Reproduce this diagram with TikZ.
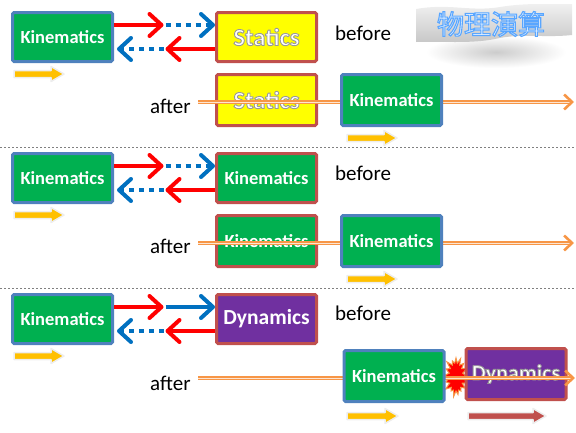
\documentclass[tikz,border=0pt]{standalone}
\usepackage{fontspec}
\setmainfont{Carlito}
\newfontfamily\cjkfont{Noto Sans CJK JP}
\usetikzlibrary{positioning,calc,arrows.meta,shapes.symbols}
\definecolor{PhysGreen}{HTML}{00B050}
\definecolor{PhysBlue}{HTML}{4F81BD}
\definecolor{PhysRed}{HTML}{C0504D}
\definecolor{PhysYellow}{HTML}{FFFF00}
\definecolor{PhysPurple}{HTML}{7030A0}
\definecolor{ArrRed}{HTML}{FF0000}
\definecolor{ArrBlue}{HTML}{0070C0}
\definecolor{ArrGold}{HTML}{FFC000}
\definecolor{LineOrange}{HTML}{F79646}
\definecolor{LogoText}{HTML}{E4F1FF}

% white text with a grey rim
\newcommand{\rimtext}[1]{\special{pdf:literal direct 2 Tr 0.9 w 0.6 0.6 0.6 RG}#1\special{pdf:literal direct 0 Tr}}
% logo text with a blue rim
\newcommand{\glowtext}[1]{\special{pdf:literal direct 2 Tr 1.1 w 0.35 0.65 1 RG}#1\special{pdf:literal direct 0 Tr}}
% fat arrow: left x, mid y, length, colour
\newcommand{\fatarrow}[4]{%
  \filldraw[fill=#4,draw=black!7,line width=1.5pt,line join=round]
    (#1,#2-3.5) -- (#1+#3-13,#2-3.5) -- (#1+#3-13,#2-7.5) -- (#1+#3,#2)
    -- (#1+#3-13,#2+7.5) -- (#1+#3-13,#2+3.5) -- (#1,#2+3.5) -- cycle;}

\begin{document}
\begin{tikzpicture}[x=1pt,y=-1pt,node distance=10pt]
  \tikzstyle{box}=[line width=3pt,rounded corners=1.5pt,minimum width=100pt,
    minimum height=49pt,inner sep=0pt,text=white,
    font=\fontsize{18.5}{20}\selectfont\bfseries]
  \tikzstyle{kin}=[box,draw=PhysBlue,fill=PhysGreen]
  \tikzstyle{other}=[box,draw=PhysRed]
  \tikzstyle{big}=[font=\fontsize{24.5}{26}\selectfont\bfseries]
  \tikzstyle{lbl}=[inner sep=0pt,font=\fontsize{21}{24}\selectfont]
  \tikzstyle{go}=[line width=4pt,-{Straight Barb[length=12pt,width=22pt,round]}]
  \tikzstyle{dots}=[dash pattern=on 5pt off 5pt]
  \tikzstyle{later}=[draw=LineOrange,line width=1.4pt,double=LineOrange!25!white,
    double distance=0.9pt,-{Straight Barb[length=8pt,width=15pt,line width=2.6pt]}]
  \tikzstyle{sep}=[draw=gray,line width=0.8pt,dash pattern=on 2pt off 2pt]
  \useasboundingbox (0,0) rectangle (576,432);

  % logo
  \shade[inner color=gray!40,outer color=white] (426,36) rectangle (566,68);
  \shade[top color=gray!10,bottom color=gray!45]
    (416,9) .. controls (450,3) and (470,12) .. (500,7)
    .. controls (530,2) and (555,5) .. (572,4) -- (572,35)
    .. controls (545,38) and (520,33) .. (495,39)
    .. controls (470,44) and (440,41) .. (416,42) -- cycle;
  \node[font=\cjkfont\fontsize{27}{30}\selectfont,text=LogoText] (logo) at (491,24) {\glowtext{物理演算}};

  % statics
  \node[kin] (k1) at (62.5,37) {Kinematics};
  \node[other,big,fill=PhysYellow,right=101pt of k1] (s1) {\rimtext{Statics}};
  \coordinate (m1) at ($(k1.east)!.5!(s1.west)$);
  \draw[go,ArrRed] ([yshift=12pt]k1.east) -- ([yshift=12pt,xshift=-1pt]m1);
  \draw[go,dots,ArrBlue] ([yshift=12pt,xshift=1pt]m1) -- ([yshift=12pt]s1.west);
  \draw[go,ArrRed] ([yshift=-12pt]s1.west) -- ([yshift=-12pt,xshift=1pt]m1);
  \draw[go,dots,ArrBlue] ([yshift=-12pt,xshift=-1pt]m1) -- ([yshift=-12pt,xshift=3pt]k1.east);
  \fatarrow{14}{74}{50}{ArrGold}
  \node[lbl,anchor=base west] (bf1) at (335,40) {before};
  \node[lbl,anchor=base west] (af1) at (150,113) {after};
  \node[other,big,fill=PhysYellow,below=10pt of s1,minimum height=51pt] (s1a) {\rimtext{Statics}};
  \coordinate (a1) at (198,102);
  \coordinate (e1) at (574,102);
  \draw[later] (a1) -- (e1);
  \node[kin,right=22pt of s1a,minimum height=51pt] (k1a) {Kinematics};
  \fatarrow{347}{138}{50}{ArrGold}

  \draw[sep] (0,147) -- (576,147);

  % kinematics
  \node[kin] (k2) at (62.5,178) {Kinematics};
  \node[other,fill=PhysGreen,right=101pt of k2] (r2) {Kinematics};
  \coordinate (m2) at ($(k2.east)!.5!(r2.west)$);
  \draw[go,ArrRed] ([yshift=12pt]k2.east) -- ([yshift=12pt,xshift=-1pt]m2);
  \draw[go,dots,ArrBlue] ([yshift=12pt,xshift=1pt]m2) -- ([yshift=12pt]r2.west);
  \draw[go,ArrRed] ([yshift=-12pt]r2.west) -- ([yshift=-12pt,xshift=1pt]m2);
  \draw[go,dots,ArrBlue] ([yshift=-12pt,xshift=-1pt]m2) -- ([yshift=-12pt,xshift=3pt]k2.east);
  \fatarrow{14}{215}{50}{ArrGold}
  \node[lbl,anchor=base west] (bf2) at (335,180) {before};
  \node[lbl,anchor=base west] (af2) at (150,253) {after};
  \node[other,fill=PhysGreen,below=10pt of r2,minimum height=51pt] (r2a) {Kinematics};
  \coordinate (a2) at (198,243);
  \coordinate (e2) at (574,243);
  \draw[later] (a2) -- (e2);
  \node[kin,right=22pt of r2a,minimum height=51pt] (k2a) {Kinematics};
  \fatarrow{347}{279}{50}{ArrGold}

  \draw[sep] (0,288) -- (576,288);

  % dynamics
  \node[kin] (k3) at (62.5,319) {Kinematics};
  \node[other,fill=PhysPurple,right=101pt of k3,font=\fontsize{21.5}{24}\selectfont\bfseries] (d3) {Dynamics};
  \coordinate (m3) at ($(k3.east)!.5!(d3.west)$);
  \draw[go,ArrRed] ([yshift=12pt]k3.east) -- ([yshift=12pt,xshift=-1pt]m3);
  \draw[go,ArrBlue] ([yshift=12pt,xshift=1pt]m3) -- ([yshift=12pt]d3.west);
  \draw[go,ArrRed] ([yshift=-12pt]d3.west) -- ([yshift=-12pt,xshift=1pt]m3);
  \draw[go,dots,ArrBlue] ([yshift=-12pt,xshift=-1pt]m3) -- ([yshift=-12pt,xshift=3pt]k3.east);
  \fatarrow{14}{356}{50}{ArrGold}
  \node[lbl,anchor=base west] (bf3) at (335,320) {before};
  \node[lbl,anchor=base west] (af3) at (150,390) {after};
  \node[starburst,fill=red,draw=LineOrange,line width=1pt,minimum width=28pt,
    minimum height=42pt,starburst point height=7pt] (bang) at (456,377) {};
  \node[other,fill=PhysPurple,minimum height=51pt,font=\fontsize{22}{24}\selectfont\bfseries]
    (d3a) at (516,374) {\rimtext{Dynamics}};
  \coordinate (a3) at (198,378);
  \coordinate (e3) at (575,378);
  \draw[later] (a3) -- (e3);
  \node[kin,minimum height=51pt] (k3a) at (394,376) {Kinematics};
  \fatarrow{347}{416}{51}{ArrGold}
  \fatarrow{468}{416}{78}{PhysRed}
\end{tikzpicture}
\end{document}
